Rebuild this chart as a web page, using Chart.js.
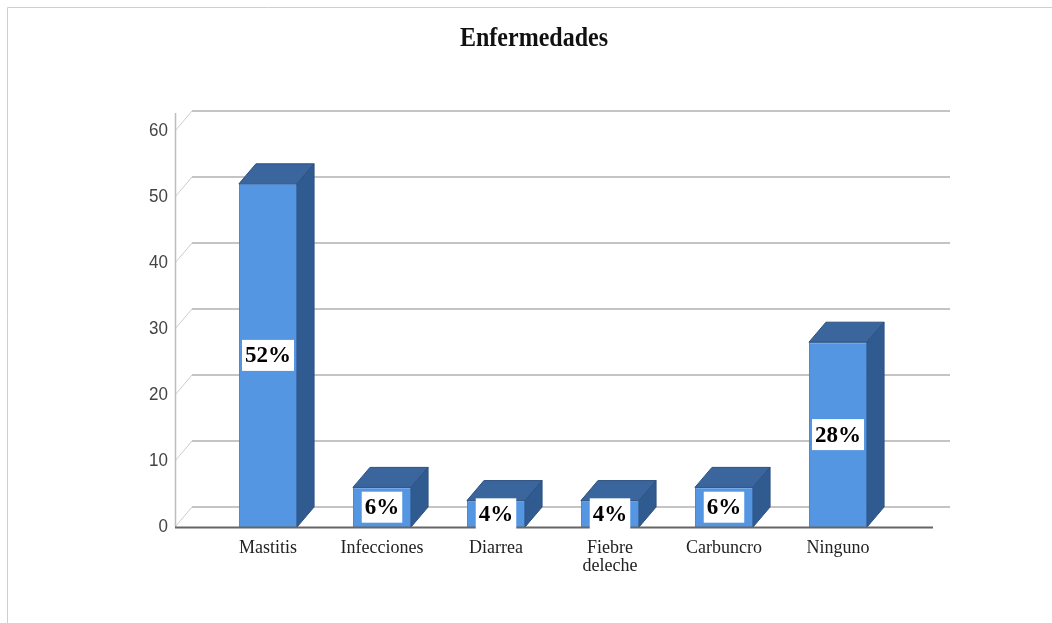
<!DOCTYPE html>
<html lang="es">
<head>
<meta charset="UTF-8">
<title>Enfermedades</title>
<script src="https://cdn.jsdelivr.net/npm/chart.js"></script>
<style>
  body { margin: 0; background: #fff; }
</style>
</head>
<body>
<canvas id="grafico" width="1052" height="623"></canvas>
<script>
  // Datos
  var categorias = ['Mastitis', 'Infecciones', 'Diarrea', ['Fiebre', 'deleche'], 'Carbuncro', 'Ninguno'];
  var frecuencias = [52, 6, 4, 4, 6, 28];
  var porcentajes = ['52%', '6%', '4%', '4%', '6%', '28%'];
  var marcasY = [0, 10, 20, 30, 40, 50, 60];
  var titulo = 'Enfermedades';

  // desplazamiento de la "profundidad" 3D
  var DX = 17, DY = -20;

  function texto(ctx, s, x, y, font, color, align, sy) {
    ctx.save();
    ctx.translate(x, y);
    ctx.scale(1, sy || 1);
    ctx.font = font;
    ctx.fillStyle = color;
    ctx.textAlign = align || 'center';
    ctx.textBaseline = 'middle';
    ctx.fillText(s, 0, 0);
    ctx.restore();
  }

  function linea(ctx, x1, y1, x2, y2, color, ancho) {
    ctx.beginPath();
    ctx.moveTo(x1, y1);
    ctx.lineTo(x2, y2);
    ctx.strokeStyle = color;
    ctx.lineWidth = ancho;
    ctx.stroke();
  }

  function poligono(ctx, pts, relleno, borde) {
    ctx.beginPath();
    ctx.moveTo(pts[0][0], pts[0][1]);
    for (var i = 1; i < pts.length; i++) ctx.lineTo(pts[i][0], pts[i][1]);
    ctx.closePath();
    ctx.fillStyle = relleno;
    ctx.fill();
    ctx.strokeStyle = borde;
    ctx.lineWidth = 1;
    ctx.stroke();
  }

  var escena = {
    id: 'escena',
    beforeDatasetsDraw: function (chart) {
      var ctx = chart.ctx, a = chart.chartArea, y = chart.scales.y, x = chart.scales.x;
      var ejeX = a.left - 36;
      ctx.save();
      // marco exterior
      linea(ctx, 7.5, 7.5, 1052, 7.5, '#cfcfcf', 1);
      linea(ctx, 7.5, 7.5, 7.5, 623, '#cfcfcf', 1);

      texto(ctx, titulo, 534, 39, 'bold 24px "Liberation Serif", "Times New Roman", serif', '#111', 'center', 1.15);

      // pared del fondo y diagonales
      marcasY.forEach(function (v) {
        var py = y.getPixelForValue(v);
        linea(ctx, ejeX + DX, py + DY, a.right + 55, py + DY, '#c4c4c4', 2);
        linea(ctx, ejeX, py, ejeX + DX, py + DY, '#cccccc', 1);
        texto(ctx, String(v), ejeX - 7, py, '17px "Liberation Sans", Arial, sans-serif', '#444', 'right', 1.12);
      });
      linea(ctx, ejeX + 0.5, y.getPixelForValue(60) + DY + 2, ejeX + 0.5, a.bottom, '#bdbdbd', 1.5);

      // etiquetas de categoria
      categorias.forEach(function (c, i) {
        var px = x.getPixelForValue(i);
        var lineas = Array.isArray(c) ? c : [c];
        lineas.forEach(function (l, k) {
          texto(ctx, l, px, 548 + k * 18, '18px "Liberation Serif", "Times New Roman", serif', '#222', 'center', 1.1);
        });
      });
      ctx.restore();
    },
    afterDatasetsDraw: function (chart) {
      var ctx = chart.ctx, a = chart.chartArea;
      var barras = chart.getDatasetMeta(0).data;
      ctx.save();
      barras.forEach(function (b, i) {
        var p = b.getProps(['x', 'y', 'base', 'width'], true);
        var izq = p.x - p.width / 2, der = p.x + p.width / 2;
        // cara superior
        poligono(ctx, [[izq, p.y], [izq + DX, p.y + DY], [der + DX, p.y + DY], [der, p.y]], '#3a659d', '#2c5080');
        // cara lateral
        poligono(ctx, [[der, p.y], [der + DX, p.y + DY], [der + DX, p.base + DY], [der, p.base]], '#305b91', '#2c5080');
      });
      // eje x frontal
      linea(ctx, a.left - 36, a.bottom + 0.5, a.right + 38, a.bottom + 0.5, '#666', 2);

      // etiquetas de porcentaje
      barras.forEach(function (b, i) {
        var p = b.getProps(['x', 'y', 'base'], true);
        var cy = (p.y + p.base) / 2;
        var f = 'bold 23px "Liberation Serif", "Times New Roman", serif';
        ctx.font = f;
        var w = ctx.measureText(porcentajes[i]).width + 6;
        ctx.fillStyle = '#fff';
        ctx.fillRect(p.x - w / 2, cy - 15.5, w, 31);
        texto(ctx, porcentajes[i], p.x, cy + 1, f, '#000', 'center', 1);
      });
      ctx.restore();
    }
  };

  var ctx = document.getElementById('grafico').getContext('2d');
  var grafico = new Chart(ctx, {
    type: 'bar',
    data: {
      labels: categorias,
      datasets: [{
        label: 'Frecuencia',
        data: frecuencias,
        backgroundColor: '#5596e3',
        borderColor: '#3f7fcc',
        borderWidth: 1,
        categoryPercentage: 1,
        barPercentage: 0.51
      }]
    },
    options: {
      responsive: false,
      animation: false,
      devicePixelRatio: 1,
      layout: { padding: { left: 211, right: 157, top: 131, bottom: 96 } },
      scales: {
        x: { display: false },
        y: { display: false, min: 0, max: 60, ticks: { stepSize: 10 } }
      },
      plugins: {
        legend: { display: false },
        tooltip: { enabled: false }
      }
    },
    plugins: [escena]
  });
</script>
</body>
</html>
